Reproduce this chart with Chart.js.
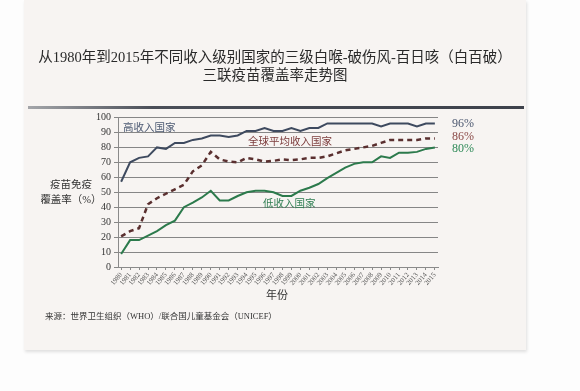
<!DOCTYPE html>
<html>
<head>
<meta charset="utf-8">
<script src="https://cdn.jsdelivr.net/npm/chart.js@4.4.1/dist/chart.umd.min.js"></script>
<style>
  html, body { margin: 0; padding: 0; background: #fdfdfd; }
  #page { position: relative; width: 580px; height: 391px; overflow: hidden; font-family: "Liberation Serif", "Noto Sans CJK SC", serif; }
  #paper { position: absolute; left: 24px; top: 0; width: 502px; height: 350px; background: #f7f4f2;
           box-shadow: 1px 2px 3px rgba(0,0,0,0.12); }
  #bar { position: absolute; left: 28px; top: 106px; width: 496px; height: 3px;
         background: linear-gradient(to right, #a4a6aa, #4a4e58 25%, #3d414b); }
  #chartBox { position: absolute; left: 0; top: 0; width: 580px; height: 391px; }
  .t { position: absolute; white-space: nowrap; line-height: 1; }
  #title { left: 0; width: 550px; top: 49px; text-align: center; font-size: 14.5px; line-height: 17.5px; color: #2a2a2a; }
  #ytitle { left: 38px; width: 66px; top: 177px; text-align: center; font-size: 10.5px; line-height: 15px; color: #333; }
  #xtitle { left: 262px; width: 30px; top: 290px; text-align: center; font-size: 11px; color: #333; }
  #source { left: 45px; top: 312px; font-size: 8.5px; color: #333; }
</style>
</head>
<body>
<div id="page">
  <div id="paper"></div>
  <div id="bar"></div>
  <div id="chartBox"><canvas id="coverageCanvas"></canvas></div>
  <div class="t" id="title">从1980年到2015年不同收入级别国家的三级白喉-破伤风-百日咳（白百破）<br>三联疫苗覆盖率走势图</div>
  <div class="t" id="ytitle">疫苗免疫<br>覆盖率（%）</div>
  <div class="t" id="xtitle">年份</div>
  <div class="t" id="source">来源：世界卫生组织（WHO）/联合国儿童基金会（UNICEF）</div>
  <div class="t" style="left:123px; top:123px; font-size:10.5px; color:#4b5872;">高收入国家</div>
  <div class="t" style="left:248px; top:137px; font-size:10.5px; color:#7b3b3b;">全球平均收入国家</div>
  <div class="t" style="left:263px; top:199px; font-size:10.5px; color:#2f7e52;">低收入国家</div>
  <div class="t" style="left:452px; top:117px; font-size:12px; color:#4c5870;">96%</div>
  <div class="t" style="left:452px; top:130px; font-size:12px; color:#8b4a48;">86%</div>
  <div class="t" style="left:452px; top:142px; font-size:12px; color:#2f8a58;">80%</div>
</div>
<script>
const canvas = document.getElementById("coverageCanvas");

// annees 1980 - 2015
const years = [1980, 1981, 1982, 1983, 1984, 1985, 1986, 1987, 1988, 1989,
  1990, 1991, 1992, 1993, 1994, 1995, 1996, 1997, 1998, 1999,
  2000, 2001, 2002, 2003, 2004, 2005, 2006, 2007, 2008, 2009,
  2010, 2011, 2012, 2013, 2014, 2015];

const highIncome = [57, 70, 73, 74, 80, 79, 83, 83, 85, 86,
  88, 88, 87, 88, 91, 91, 93, 91, 91, 93,
  91, 93, 93, 96, 96, 96, 96, 96, 96, 94,
  96, 96, 96, 94, 96, 96];

const globalAvg = [20.5, 24, 26, 42, 46, 49, 52, 55, 64, 68,
  77, 72, 70.5, 70, 73, 72, 70.5, 71, 72, 71.5,
  72, 73, 73, 74, 76, 78, 79, 80, 81, 83,
  85, 85, 85, 85, 86, 86];

const lowIncome = [8.7, 18, 18, 21, 24, 28, 31, 40, 43, 46.5,
  51, 44.5, 44.5, 47.5, 50, 51, 51, 50, 47.5, 47.5,
  51, 53, 55.5, 59.5, 63, 66.5, 69, 70, 70, 74,
  73, 76.5, 76.5, 77, 79, 80];

const yTicks = [0, 10, 20, 30, 40, 50, 60, 70, 80, 90, 100];

function points(vals){
  return years.map((y, i) => ({x: y, y: vals[i]}));
}

const chart = new Chart(canvas, {
  type: 'line',
  data: {
    datasets: [
      { label: '高收入国家', data: points(highIncome), borderColor: '#3e4a5f', borderWidth: 2, pointRadius: 0, tension: 0 },
      { label: '全球平均收入国家', data: points(globalAvg), borderColor: '#5a2f2f', borderWidth: 2.5, borderDash: [5, 4], pointRadius: 0, tension: 0 },
      { label: '低收入国家', data: points(lowIncome), borderColor: '#2c7a4c', borderWidth: 2, pointRadius: 0, tension: 0 }
    ]
  },
  options: {
    responsive: true,
    maintainAspectRatio: false,
    animation: false,
    layout: { padding: { left: 88, right: 142, top: 117.5, bottom: 94 } },
    plugins: { legend: { display: false }, tooltip: { enabled: false } },
    scales: {
      x: {
        type: 'linear',
        min: 1979.65,
        max: 2015.35,
        afterBuildTicks: s => { s.ticks = years.map(v => ({value: v})); },
        afterFit: s => { s.height = 30; },
        border: { display: true, color: '#8a8a8a', width: 1 },
        grid: { drawOnChartArea: false, drawTicks: true, tickLength: 3, color: '#8a8a8a' },
        ticks: {
          stepSize: 1, autoSkip: false, minRotation: 50, maxRotation: 50, padding: 1,
          color: '#555', font: { family: 'Liberation Serif', size: 7 },
          callback: v => String(v)
        }
      },
      y: {
        min: 0,
        max: 100,
        afterBuildTicks: s => { s.ticks = yTicks.map(v => ({value: v})); },
        afterFit: s => { s.width = 30; },
        border: { display: true, color: '#8a8a8a', width: 1 },
        grid: { color: '#868686', lineWidth: 1, tickLength: 4 },
        ticks: { autoSkip: false, padding: 3, color: '#333', font: { family: 'Liberation Serif', size: 10 } }
      }
    }
  }
});
</script>
</body>
</html>
